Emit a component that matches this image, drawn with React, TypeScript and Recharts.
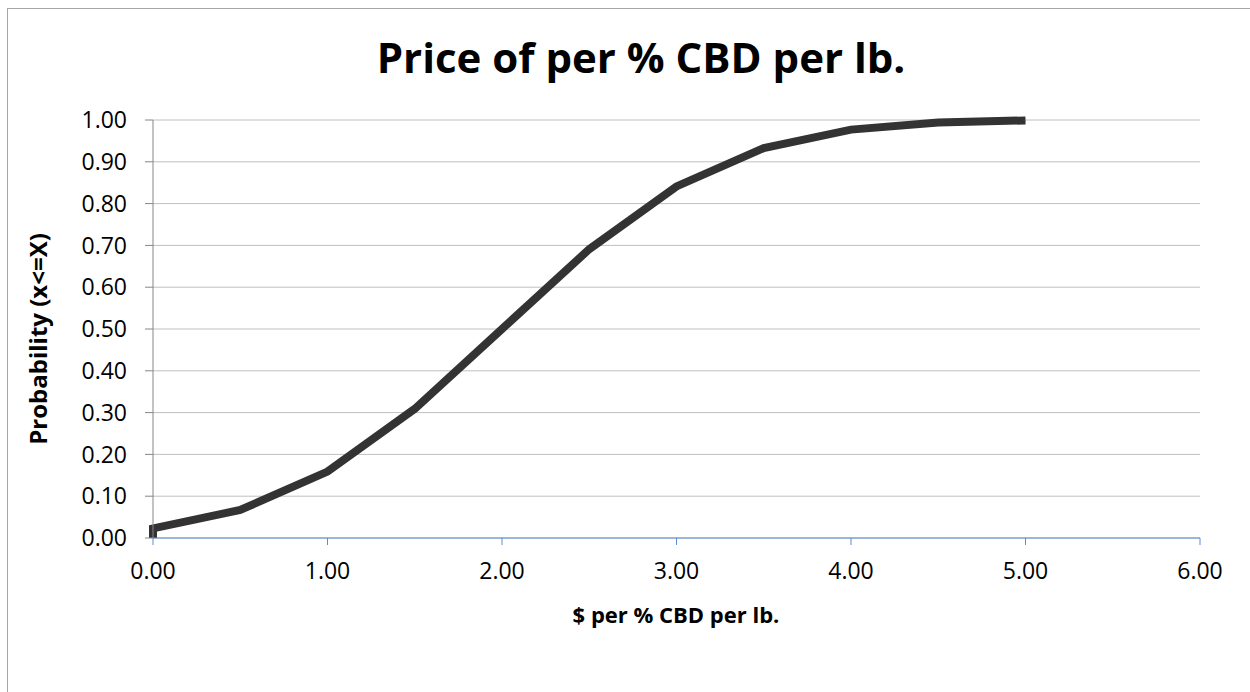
import React from 'react';
import { LineChart, Line, XAxis, YAxis, CartesianGrid, Label } from 'recharts';

// $ per % CBD per lb. vs cumulative probability
const priceX = [0, 0, 0.5, 1, 1.5, 2, 2.5, 3, 3.5, 4, 4.5, 5];
const probability = [0, 0.023, 0.067, 0.159, 0.309, 0.5, 0.691, 0.841, 0.933, 0.977, 0.994, 0.999];
const xTicks = [0, 1, 2, 3, 4, 5, 6];
const yTicks = [0, 0.1, 0.2, 0.3, 0.4, 0.5, 0.6, 0.7, 0.8, 0.9, 1];

const data = priceX.map((x, i) => ({ x, p: probability[i] }));

const FONT = '"Open Sans", "Noto Sans", sans-serif';
const fmt = (v: number) => v.toFixed(2);

const App: React.FC = () => {
  return (
    <div style={{ position: 'absolute', left: 0, top: 0, width: 1250, height: 692, background: '#fff', overflow: 'hidden' }}>
      <div style={{ position: 'absolute', left: 7, top: 8, width: 1300, height: 720, border: '1px solid #a6a6a6' }} />
      <div
        style={{
          position: 'absolute', left: 0, top: 28, width: 1282, textAlign: 'center',
          fontFamily: FONT, fontWeight: 700, fontSize: 42, color: '#000', lineHeight: 'normal',
        }}
      >
        Price of per % CBD per lb.
      </div>
      <div style={{ position: 'absolute', left: 0, top: 0 }}>
        <LineChart width={1250} height={692} data={data} margin={{ top: 120, right: 50, bottom: 94, left: 73 }}>
          <CartesianGrid vertical={false} stroke="#c0c0c0" strokeWidth={1} />
          <XAxis
            type="number"
            dataKey="x"
            domain={[0, 6]}
            ticks={xTicks}
            tickFormatter={fmt}
            height={60}
            stroke="#5b8dd6"
            tickSize={7}
            tickMargin={18}
            tick={{ fill: '#000', fontSize: 23, fontFamily: FONT }}
          >
            <Label
              content={() => (
                <text x={676} y={623} textAnchor="middle" fontFamily={FONT} fontWeight={700} fontSize={22} fill="#000">
                  $ per % CBD per lb.
                </text>
              )}
            />
          </XAxis>
          <YAxis
            type="number"
            domain={[0, 1]}
            ticks={yTicks}
            tickFormatter={fmt}
            width={80}
            stroke="#868686"
            tickSize={8}
            tickMargin={18}
            tick={{ fill: '#000', fontSize: 23, fontFamily: FONT }}
          >
            <Label
              content={() => (
                <text
                  x={47}
                  y={339}
                  transform="rotate(-90 47 339)"
                  textAnchor="middle"
                  fontFamily={FONT}
                  fontWeight={700}
                  fontSize={24}
                  fill="#000"
                >
                  Probability (x&lt;=X)
                </text>
              )}
            />
          </YAxis>
          <Line
            type="linear"
            dataKey="p"
            stroke="#333333"
            strokeWidth={8}
            dot={false}
            activeDot={false}
            isAnimationActive={false}
          />
        </LineChart>
      </div>
    </div>
  );
};

export default App;
